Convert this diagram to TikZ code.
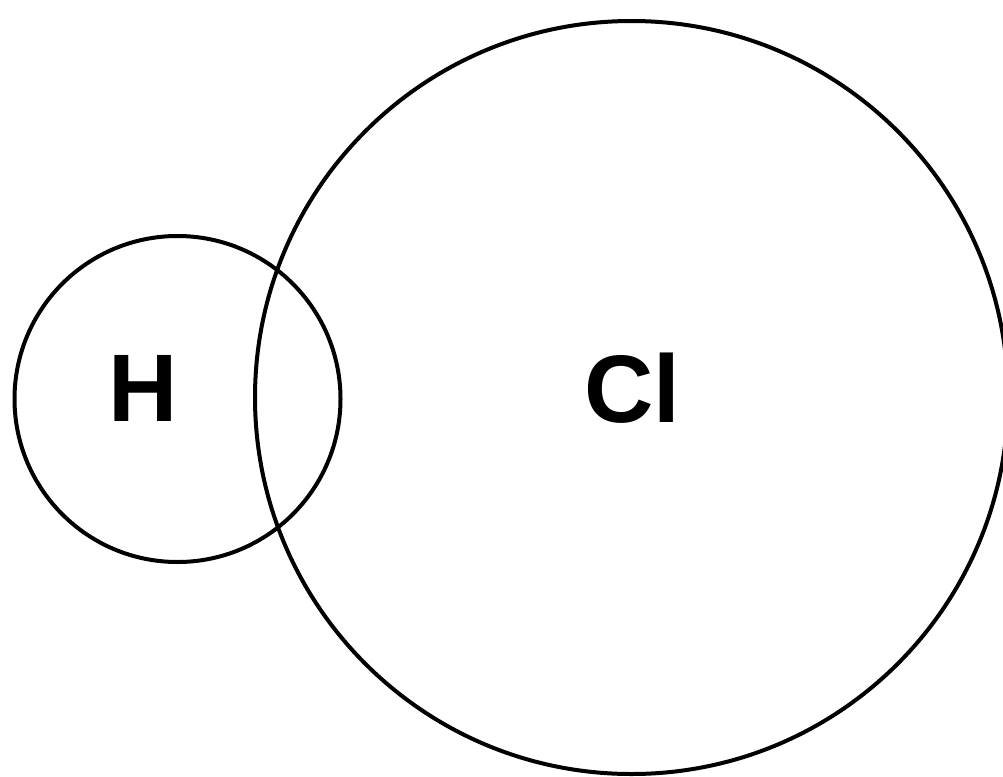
\documentclass[tikz,border=0pt]{standalone}
\usepackage{fontspec}
\setmainfont{Liberation Sans}
\begin{document}
\begin{tikzpicture}[x=1pt,y=-1pt,
  atom/.style={draw=black,line width=4pt,circle,inner sep=0pt},
  lbl/.style={font=\fontsize{96}{96}\selectfont\bfseries,inner sep=0pt}]
\useasboundingbox (0,0) rectangle (1003,776);
\clip (0,0) rectangle (1003,776);
\fill[white] (0,0) rectangle (1003,776);
\node[atom,minimum size=326pt] (h) at (177.5,399) {};
\node[atom,minimum size=753pt] (cl) at (631.5,397.5) {};
\node[lbl] (ht) at (143,388.5) {H};
\node[lbl] (clt) at (632,388) {Cl};
\end{tikzpicture}
\end{document}
